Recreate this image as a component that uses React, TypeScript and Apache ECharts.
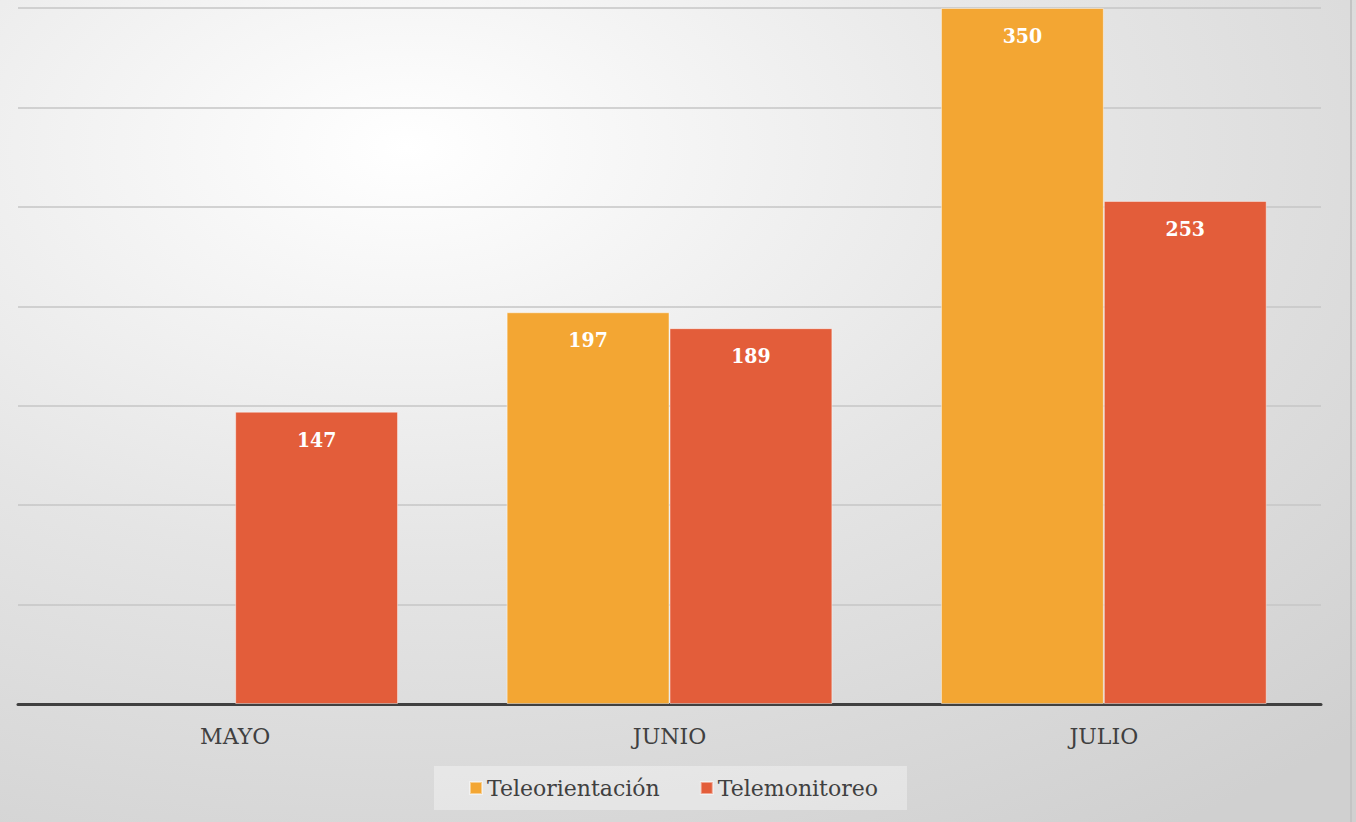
import React, { useEffect, useRef } from "react";
import * as echarts from "echarts";

const categories = ["MAYO", "JUNIO", "JULIO"];
const teleorientacion: (number | null)[] = [null, 197, 350];
const telemonitoreo: number[] = [147, 189, 253];
const seriesNames = ["Teleorientación", "Telemonitoreo"];

export default function App() {
  const ref = useRef<HTMLDivElement>(null);
  useEffect(() => {
    if (!ref.current) return;
    const chart = echarts.init(ref.current, null, { renderer: "svg" });
    const labelStyle = {
      show: true,
      position: "insideTop" as const,
      distance: 17,
      color: "#ffffff",
      fontFamily: "DejaVu Serif Condensed, DejaVu Serif",
      fontWeight: "bold" as const,
      fontSize: 21,
    };
    chart.setOption({
      animation: false,
      graphic: [
        {
          type: "rect",
          z: -10,
          silent: true,
          shape: { x: 0, y: 0, width: 1356, height: 822 },
          style: {
            fill: new echarts.graphic.RadialGradient(0.3, 0.18, 1.0, [
              { offset: 0, color: "#ffffff" },
              { offset: 0.5, color: "#e5e5e5" },
              { offset: 1, color: "#d0d0d0" },
            ]),
          },
        },
        {
          type: "line",
          z: -9,
          silent: true,
          shape: { x1: 1351, y1: 0, x2: 1351, y2: 822 },
          style: { stroke: "#c4c4c4", lineWidth: 2 },
        },
      ],
      grid: { left: 18, right: 35, top: 8, bottom: 118, containLabel: false },
      legend: {
        data: seriesNames,
        left: 434,
        bottom: 12,
        icon: "rect",
        itemWidth: 12,
        itemHeight: 12,
        itemGap: 40,
        padding: [11, 29, 11, 35],
        backgroundColor: "rgba(255,255,255,0.35)",
        textStyle: {
          color: "#404040",
          fontFamily: "DejaVu Serif",
          fontSize: 22,
        },
      },
      xAxis: {
        type: "category",
        data: categories,
        axisLine: { show: true, lineStyle: { color: "#404040", width: 3 } },
        axisTick: { show: false },
        axisLabel: {
          color: "#404040",
          fontFamily: "DejaVu Serif",
          fontSize: 22,
          margin: 21,
        },
      },
      yAxis: {
        type: "value",
        min: 0,
        max: 350,
        interval: 50,
        axisLabel: { show: false },
        axisLine: { show: false },
        axisTick: { show: false },
        splitLine: { lineStyle: { color: "#c6c6c6", width: 1.5 } },
      },
      series: [
        {
          name: seriesNames[0],
          type: "bar",
          data: teleorientacion,
          barGap: "0%",
          barCategoryGap: "25%",
          itemStyle: {
            color: "#f3a633",
            borderColor: "rgba(255,255,255,0.45)",
            borderWidth: 1,
          },
          label: labelStyle,
        },
        {
          name: seriesNames[1],
          type: "bar",
          data: telemonitoreo,
          barGap: "0%",
          barCategoryGap: "25%",
          itemStyle: {
            color: "#e35d3a",
            borderColor: "rgba(255,255,255,0.45)",
            borderWidth: 1,
          },
          label: labelStyle,
        },
      ],
    });
    return () => chart.dispose();
  }, []);
  return <div ref={ref} style={{ width: 1356, height: 822, position: "absolute", left: 0, top: 0 }} />;
}
